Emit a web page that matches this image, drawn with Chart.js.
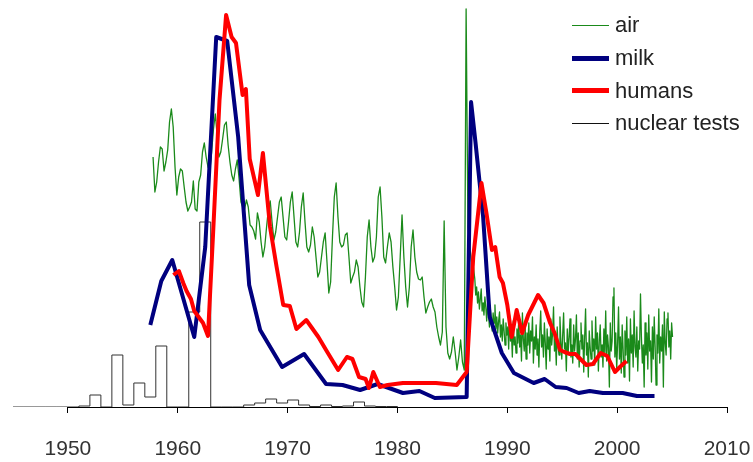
<!DOCTYPE html>
<html>
<head>
<meta charset="utf-8">
<script src="https://cdn.jsdelivr.net/npm/chart.js@4/dist/chart.umd.min.js"></script>
<style>
  body { margin: 0; background: #fff; }
  #wrap { position: relative; width: 753px; height: 462px; }
  #legend {
    position: absolute; left: 572px; top: 9px;
    font: 22px "Liberation Sans", Arial, sans-serif; color: #222;
  }
  #legend .row { display: flex; align-items: center; height: 32.7px; white-space: nowrap; }
  #legend .swatch { width: 37px; margin-right: 6px; }
</style>
</head>
<body>
<div id="wrap">
  <canvas id="chart" width="753" height="462"></canvas>
  <div id="legend"></div>
</div>
<script>
// x axis
const tickYears = [1950, 1960, 1970, 1980, 1990, 2000, 2010];
const tickLabels = ["1950", "1960", "1970", "1980", "1990", "2000", "2010"];

// milk
const milkYears = [1957.5, 1958.5, 1959.5, 1961.5, 1962.5, 1963.5, 1964.5, 1965.5, 1966.5, 1967.5,
  1969.5, 1971.5, 1973.5, 1975.0, 1976.6, 1978.2, 1980.5, 1982.0, 1983.4, 1986.3,
  1986.7, 1987.1, 1987.8, 1988.4, 1989.5, 1990.6, 1992.4, 1993.4, 1994.4, 1995.4,
  1996.5, 1997.5, 1998.7, 2000.5, 2001.8, 2003.4];
const milkValues = [82, 126, 147, 70, 160, 370, 366, 270, 122, 77,
  40, 53, 23, 22, 17, 23, 14, 16, 9, 10,
  305, 265, 190, 90, 54, 34, 24, 28, 20, 19,
  14, 16, 14, 14, 11, 11];

// humans
const humansYears = [1959.6, 1960.1, 1960.5, 1960.8, 1961.2, 1961.5, 1961.9, 1962.3, 1962.75, 1963.2,
  1963.8, 1964.4, 1964.9, 1965.3, 1965.9, 1966.2, 1966.55, 1967.3, 1967.75, 1968.4,
  1969.0, 1969.6, 1970.2, 1970.8, 1971.7, 1972.8, 1973.5, 1974.6, 1975.4, 1975.9,
  1976.5, 1977.1, 1977.4, 1977.8, 1978.4, 1979.1, 1980.5, 1983.5, 1985.4, 1986.3,
  1986.9, 1987.65, 1988.1, 1988.6, 1988.9, 1989.3, 1989.6, 1990.0, 1990.4, 1990.85,
  1991.35, 1991.9, 1992.8, 1993.3, 1993.9, 1994.3, 1994.8, 1995.2, 1995.7, 1996.2,
  1997.2, 1997.8, 1998.5, 1999.1, 1999.8, 2000.25, 2000.85];
const humansValues = [132, 136, 124, 116, 108, 96, 90, 84, 71, 170,
  307, 392, 370, 364, 312, 318, 248, 212, 254, 180,
  140, 102, 101, 78, 87, 70, 57, 37, 50, 48,
  30, 28, 19, 35, 20, 22, 24, 24, 22, 35,
  150, 224, 194, 157, 160, 130, 124, 102, 70, 97,
  74, 92, 112, 104, 84, 74, 57, 55, 53, 53,
  42, 43, 54, 51, 35, 40, 46];

// air up to 1986, every two months from autumn 1957
const airStart = 1957.75;
const airStep = 1 / 6;
const airValues = [
  250, 215,                     // 1957
  225, 245, 260, 258, 236, 245, // 1958
  257, 285, 298, 280, 240, 212, // 1959
  230, 238, 236, 220, 205, 196, // 1960
  200, 205, 226, 198, 196, 225, // 1961
  232, 255, 264, 250, 240, 236, // 1962
  255, 278, 293, 272, 250, 255, // 1963
  268, 282, 285, 262, 245, 232, // 1964
  226, 238, 247, 228, 205, 200, // 1965
  198, 207, 200, 182, 180, 176, // 1966
  168, 194, 185, 165, 150, 160, // 1967
  180, 198, 206, 185, 167, 175, // 1968
  190, 205, 210, 190, 170, 167, // 1969
  185, 205, 215, 190, 165, 160, // 1970
  175, 200, 214, 185, 160, 155, // 1971
  162, 180, 170, 150, 130, 135, // 1972
  150, 165, 174, 145, 114, 125, // 1973
  170, 210, 224, 190, 165, 160, // 1974
  162, 172, 174, 150, 124, 130, // 1975
  135, 147, 140, 120, 105, 100, // 1976
  130, 170, 187, 160, 145, 150, // 1977
  170, 210, 220, 190, 150, 144, // 1978
  160, 174, 165, 140, 120, 97,  // 1979
  110, 150, 192, 150, 120, 100, // 1980
  120, 160, 177, 150, 135, 128, // 1981
  127, 130, 110, 94, 100, 105,  // 1982
  108, 100, 95, 80, 70, 62,     // 1983
  75, 186, 80, 54, 48, 55,      // 1984
  70, 55, 37, 50, 67, 45,       // 1985
  37, 398, 180, 160, 145, 140,  // 1986
];

// air from 1987, monthly
const airLateStart = 1987 + 1 / 24;
const airLateStep = 1 / 12;
const airLateValues = [
  128, 112, 120, 104, 115, 98, 108, 118, 96, 104, 92, 110, // 1987
  100, 86, 104, 92, 80, 98, 88, 76, 94, 84, 102, 78,       // 1988
  90, 74, 86, 95, 70, 82, 66, 88, 76, 62, 84, 72,          // 1989
  80, 58, 92, 66, 74, 50, 86, 62, 70, 54, 78, 64,          // 1990
  88, 60, 72, 46, 94, 68, 56, 80, 48, 74, 62, 84,          // 1991
  54, 76, 66, 90, 44, 70, 58, 82, 52, 68, 40, 76,          // 1992
  96, 60, 72, 50, 84, 64, 38, 78, 58, 70, 46, 88,          // 1993
  62, 74, 100, 56, 68, 42, 80, 60, 52, 90, 66, 48,         // 1994
  72, 94, 58, 64, 36, 78, 54, 70, 88, 50, 62, 44,          // 1995
  82, 56, 68, 92, 48, 74, 40, 66, 84, 58, 72, 35,          // 1996
  70, 98, 52, 64, 30, 76, 60, 48, 86, 56, 68, 42,          // 1997
  90, 58, 74, 36, 66, 82, 50, 62, 40, 78, 54, 96,          // 1998
  46, 72, 60, 20, 84, 56, 66, 110, 119, 50, 74, 38,        // 1999
  64, 100, 48, 70, 34, 82, 58, 30, 76, 52, 90, 44,         // 2000
  68, 26, 88, 54, 72, 40, 96, 60, 50, 80, 36, 66,          // 2001
  58, 113, 70, 44, 62, 20, 84, 52, 74, 38, 92, 56,         // 2002
  66, 25, 80, 48, 90, 60, 22, 72, 54, 98, 44, 70,          // 2003
  56, 82, 20, 95, 64, 52, 88, 94, 60, 76, 48, 84,          // 2004
  70                                                       // 2005
];

// atmospheric test yield per year (step outline)
const testYears = [1945, 1946, 1947, 1948, 1949, 1950, 1951, 1952, 1953, 1954,
  1955, 1956, 1957, 1958, 1959, 1960, 1961, 1962, 1963, 1964,
  1965, 1966, 1967, 1968, 1969, 1970, 1971, 1972, 1973, 1974,
  1975, 1976, 1977, 1978, 1979, 1980];
const testYield = [0, 0, 0, 0, 0, 0, 1, 12, 0, 52,
  2, 24, 10, 61, 0, 0, 95, 185, 0, 0,
  0, 2, 4, 8, 4, 7, 2, 0.5, 2, 0.5,
  1, 5, 1, 0.5, 0.5, 0];

const legendItems = [
  { label: "air", color: "#1a8a1a", width: 1 },
  { label: "milk", color: "#00007f", width: 5 },
  { label: "humans", color: "#ff0000", width: 5 },
  { label: "nuclear tests", color: "#111", width: 1 },
];

function pairs(xs, ys) {
  return xs.map((x, i) => ({ x: x, y: ys[i] }));
}

const airPoints = airValues.map((v, i) => ({ x: airStart + i * airStep, y: v }))
  .concat(airLateValues.map((v, i) => ({ x: airLateStart + i * airLateStep, y: v })));

// bottom axis line from the first to the last tick
const axisLine = {
  id: "axisLine",
  afterDatasetsDraw(chart) {
    const x = chart.scales.x;
    const y = Math.round(chart.chartArea.bottom) + 0.5;
    const ctx = chart.ctx;
    ctx.save();
    ctx.strokeStyle = "#000";
    ctx.lineWidth = 1;
    ctx.beginPath();
    ctx.moveTo(x.getPixelForValue(tickYears[0]), y);
    ctx.lineTo(x.getPixelForValue(tickYears[tickYears.length - 1]), y);
    ctx.stroke();
    ctx.restore();
  },
};

const lineBase = { pointRadius: 0, tension: 0, fill: false, borderJoinStyle: "round" };

new Chart(document.getElementById("chart"), {
  type: "line",
  data: {
    datasets: [
      { ...lineBase, label: "humans", data: pairs(humansYears, humansValues), borderColor: "#ff0000", borderWidth: 4 },
      { ...lineBase, label: "milk", data: pairs(milkYears, milkValues), borderColor: "#00007f", borderWidth: 4 },
      { ...lineBase, label: "air", data: airPoints, borderColor: "#1a8a1a", borderWidth: 1.3 },
      { ...lineBase, label: "nuclear tests", data: pairs(testYears, testYield), borderColor: "#333", borderWidth: 1, stepped: "before" },
    ],
  },
  options: {
    responsive: false,
    animation: false,
    devicePixelRatio: 1,
    layout: { padding: { left: 13, right: 26, top: 7, bottom: 0 } },
    plugins: { legend: { display: false }, tooltip: { enabled: false } },
    scales: {
      x: {
        type: "linear",
        min: 1945,
        max: 2010,
        afterBuildTicks: (scale) => { scale.ticks = tickYears.map((v) => ({ value: v })); },
        afterFit: (scale) => {
          scale.height = 55;
          scale.paddingLeft = 0;
          scale.paddingRight = 0;
        },
        border: { display: false },
        grid: { drawOnChartArea: false, drawTicks: true, tickLength: 6, color: "#000", lineWidth: 1 },
        ticks: {
          autoSkip: false,
          maxRotation: 0,
          padding: 24,
          color: "#333",
          font: { family: "'Liberation Sans', Arial, sans-serif", size: 21 },
          callback: (value, i) => tickLabels[i],
        },
      },
      y: { display: false, min: 0, max: 400 },
    },
  },
  plugins: [axisLine],
});

// legend
const legend = document.getElementById("legend");
legendItems.forEach((item) => {
  const row = document.createElement("div");
  row.className = "row";
  const sw = document.createElement("span");
  sw.className = "swatch";
  sw.style.height = item.width + "px";
  sw.style.background = item.color;
  const txt = document.createElement("span");
  txt.textContent = item.label;
  row.appendChild(sw);
  row.appendChild(txt);
  legend.appendChild(row);
});
</script>
</body>
</html>
